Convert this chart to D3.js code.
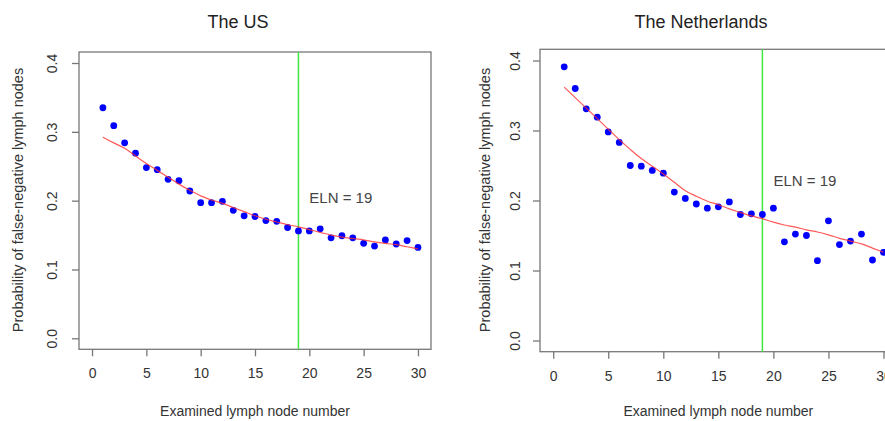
<!DOCTYPE html>
<html>
<head>
<meta charset="utf-8">
<script src="https://cdn.jsdelivr.net/npm/d3@7"></script>
<style>
    body { margin: 0; background: #fff; }
    svg { display: block; font-family: "Liberation Sans", Arial, sans-serif; }
</style>
</head>
<body>
<svg id="chart" width="885" height="421"></svg>
<script>
"use strict";

// examined lymph node number, 1..30
var nodeNumbers = [1, 2, 3, 4, 5, 6, 7, 8, 9, 10, 11, 12, 13, 14, 15,
    16, 17, 18, 19, 20, 21, 22, 23, 24, 25, 26, 27, 28, 29, 30];

// The US: observed probability + smoothed curve
var usProb = [0.335, 0.309, 0.284, 0.269, 0.248, 0.245, 0.231, 0.229, 0.214, 0.197,
    0.197, 0.199, 0.186, 0.178, 0.177, 0.171, 0.170, 0.161, 0.156, 0.156,
    0.159, 0.146, 0.149, 0.146, 0.138, 0.134, 0.143, 0.137, 0.142, 0.132];
var usFit = [0.292, 0.284, 0.276, 0.265, 0.254, 0.244, 0.234, 0.224, 0.215, 0.207,
    0.201, 0.196, 0.190, 0.184, 0.178, 0.173, 0.169, 0.165, 0.162, 0.158,
    0.154, 0.150, 0.147, 0.145, 0.143, 0.140, 0.138, 0.136, 0.133, 0.130];

// The Netherlands
var nlProb = [0.391, 0.360, 0.331, 0.319, 0.298, 0.283, 0.250, 0.249, 0.243, 0.239,
    0.212, 0.203, 0.195, 0.189, 0.191, 0.198, 0.180, 0.181, 0.180, 0.189,
    0.141, 0.152, 0.150, 0.114, 0.171, 0.137, 0.142, 0.152, 0.115, 0.126];
var nlFit = [0.362, 0.347, 0.332, 0.317, 0.302, 0.287, 0.273, 0.260, 0.249, 0.238,
    0.226, 0.214, 0.206, 0.199, 0.194, 0.188, 0.183, 0.178, 0.174, 0.169,
    0.165, 0.162, 0.158, 0.155, 0.151, 0.146, 0.142, 0.138, 0.132, 0.126];

var xTicks = [0, 5, 10, 15, 20, 25, 30];
var yTicks = [0, 0.1, 0.2, 0.3, 0.4];
var elnCut = 19;
var elnLabel = "ELN = " + elnCut;

var xTitle = "Examined lymph node number";
var yTitle = "Probability of false-negative lymph nodes";

// R style 4% padding on xlim c(0,30) and ylim c(0,0.4)
var xDomain = [-1.2, 31.2];
var yDomain = [-0.016, 0.416];

var TextColor = "#333";
var AxisColor = "#777";

var svg = d3.select("#chart");

drawPanel({
    title: "The US", titleX: 238,
    box: { left: 79, right: 431, top: 52, bottom: 349.3 },
    yTitleX: 18, yLabelX: 52,
    prob: usProb, fit: usFit,
    labelPos: [20, 0.197]
});

drawPanel({
    title: "The Netherlands", titleX: 701,
    box: { left: 540, right: 896.7, top: 49.3, bottom: 351.7 },
    yTitleX: 485, yLabelX: 515,
    prob: nlProb, fit: nlFit,
    labelPos: [20, 0.221]
});

function drawPanel(opts) {
    var b = opts.box;
    var g = svg.append("g");

    var x = d3.scaleLinear().domain(xDomain).range([b.left, b.right]);
    var y = d3.scaleLinear().domain(yDomain).range([b.bottom, b.top]);

    // title
    g.append("text")
        .attr("x", opts.titleX)
        .attr("y", 27.5)
        .attr("text-anchor", "middle")
        .attr("font-size", 18)
        .attr("fill", "#222")
        .text(opts.title);

    // x axis
    var xAxis = g.append("g")
        .attr("transform", "translate(0," + b.bottom + ")")
        .call(d3.axisBottom(x).tickValues(xTicks).tickSize(7).tickPadding(12).tickSizeOuter(0));
    styleAxis(xAxis);

    // y axis, labels rotated as R does
    var yAxis = g.append("g")
        .attr("transform", "translate(" + b.left + ",0)")
        .call(d3.axisLeft(y).tickValues(yTicks).tickSize(7).tickFormat(d3.format(".1f")).tickSizeOuter(0));
    styleAxis(yAxis);
    yAxis.selectAll(".tick text")
        .attr("x", null).attr("dy", null)
        .attr("text-anchor", "middle")
        .attr("transform", "translate(" + (opts.yLabelX - b.left + 5) + ",0) rotate(-90)");

    // box
    g.append("rect")
        .attr("x", b.left).attr("y", b.top)
        .attr("width", b.right - b.left).attr("height", b.bottom - b.top)
        .attr("fill", "none")
        .attr("stroke", AxisColor)
        .attr("stroke-width", 1.3);

    // axis titles
    g.append("text")
        .attr("x", (b.left + b.right) / 2)
        .attr("y", 415.5)
        .attr("text-anchor", "middle")
        .attr("font-size", 14)
        .attr("fill", TextColor)
        .text(xTitle);

    g.append("text")
        .attr("transform", "translate(" + (opts.yTitleX + 5) + "," + 200 + ") rotate(-90)")
        .attr("text-anchor", "middle")
        .attr("font-size", 14.5)
        .attr("fill", TextColor)
        .text(yTitle);

    // ELN cut-off line
    g.append("line")
        .attr("x1", x(elnCut)).attr("x2", x(elnCut))
        .attr("y1", b.top).attr("y2", b.bottom)
        .attr("stroke", "#3fe83f")
        .attr("stroke-width", 1.5);

    // points
    g.append("g").selectAll("circle")
        .data(opts.prob)
        .enter()
        .append("circle")
        .attr("cx", function (d, i) { return x(nodeNumbers[i]); })
        .attr("cy", function (d) { return y(d); })
        .attr("r", 3.4)
        .attr("fill", "#0000ff");

    // smoothed curve
    var line = d3.line()
        .x(function (d, i) { return x(nodeNumbers[i]); })
        .y(function (d) { return y(d); })
        .curve(d3.curveMonotoneX);

    g.append("path")
        .datum(opts.fit)
        .attr("d", line)
        .attr("fill", "none")
        .attr("stroke", "#ff3030")
        .attr("stroke-opacity", 0.8)
        .attr("stroke-width", 1.2);

    g.append("text")
        .attr("x", x(opts.labelPos[0]))
        .attr("y", y(opts.labelPos[1]))
        .attr("font-size", 15)
        .attr("fill", "#444")
        .text(elnLabel);
}

function styleAxis(axis) {
    axis.select(".domain").remove();
    axis.selectAll(".tick line").attr("stroke", AxisColor).attr("stroke-width", 1.3);
    axis.selectAll(".tick text")
        .attr("fill", TextColor)
        .attr("font-size", 14)
        .attr("font-family", "\"Liberation Sans\", Arial, sans-serif");
}
</script>
</body>
</html>
